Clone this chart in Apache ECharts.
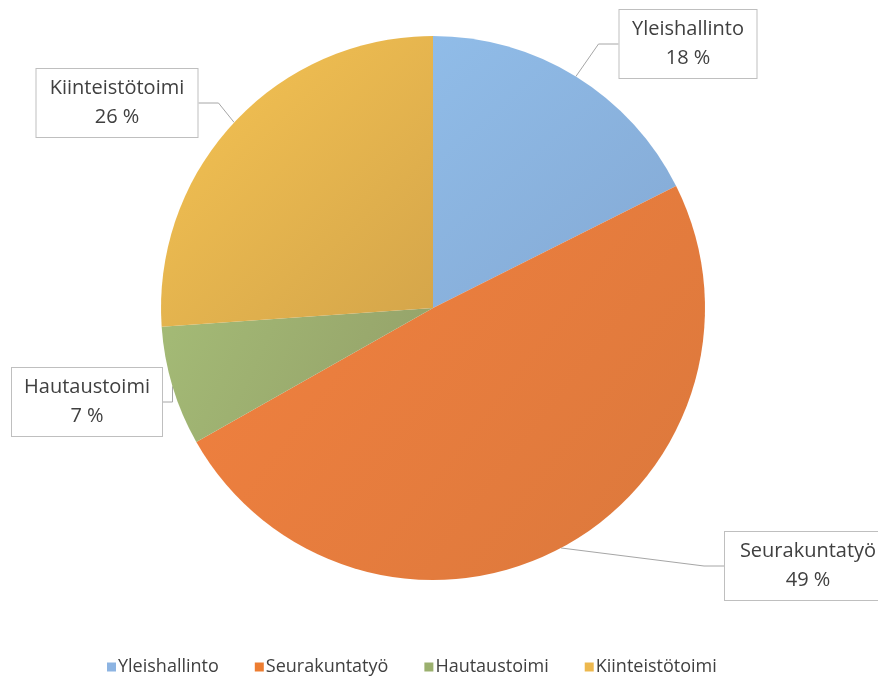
<!DOCTYPE html>
<html><head><meta charset="utf-8">
<script src="https://cdn.jsdelivr.net/npm/echarts@6/dist/echarts.min.js"></script>
<style>html,body{margin:0;padding:0;background:#fff}#c{width:878px;height:686px}</style>
</head><body><div id="c"></div>
<script>
const categories = ['Yleishallinto', 'Seurakuntatyö', 'Hautaustoimi', 'Kiinteistötoimi'];
const values = [17.6, 49.2, 7.1, 26.1];
const colorsLight = ['#90BCE8', '#F2813F', '#A4BB76', '#F6C453'];
const colorsDark = ['#84A9D4', '#DB783C', '#939F68', '#D4A54A'];
const legendColors = ['#8DB4E2', '#ED7D31', '#9BB06E', '#EDB84E'];
// label box layout only
const labelPos = [[688, 44], [808, 566], [87, 402], [117, 103]];
const labelWidth = [117, 146, 130, 141];

const chart = echarts.init(document.getElementById('c'), null, {renderer: 'canvas'});
const data = categories.map((name, i) => ({
  name, value: values[i],
  label: {width: labelWidth[i]},
  itemStyle: {
    color: {type: 'linear', x: 0, y: 0, x2: 1, y2: 1,
      colorStops: [{offset: 0, color: colorsLight[i]}, {offset: 1, color: colorsDark[i]}]}
  }
}));
chart.setOption({
  animation: false,
  backgroundColor: '#fff',
  legend: {
    bottom: 5, left: 102,
    itemWidth: 9, itemHeight: 9, itemGap: 36,
    icon: 'rect',
    textStyle: {fontFamily: 'Open Sans', fontSize: 18, color: '#404040', padding: [0, 0, 0, -3]},
    data: categories.map((n, i) => ({name: n, itemStyle: {color: legendColors[i]}}))
  },
  series: [{
    type: 'pie',
    center: [433, 308],
    radius: 272,
    startAngle: 90,
    clockwise: true,
    data,
    itemStyle: {borderWidth: 0},
    label: {
      show: true,
      position: 'outside',
      formatter: p => p.name + '\n' + Math.round(p.value) + ' %',
      fontFamily: 'Open Sans', fontSize: 20, color: '#404040',
      lineHeight: 29,
      align: 'center',
      overflow: 'none',
      backgroundColor: '#fff',
      borderColor: '#BFBFBF', borderWidth: 1,
      padding: [5, 10, 5, 10]
    },
    labelLine: {show: true, length: 20, length2: 20, lineStyle: {color: '#A6A6A6', width: 1}},
    labelLayout: params => ({
      x: labelPos[params.dataIndex][0],
      y: labelPos[params.dataIndex][1],
      align: 'center', verticalAlign: 'middle'
    })
  }]
});
</script></body></html>
